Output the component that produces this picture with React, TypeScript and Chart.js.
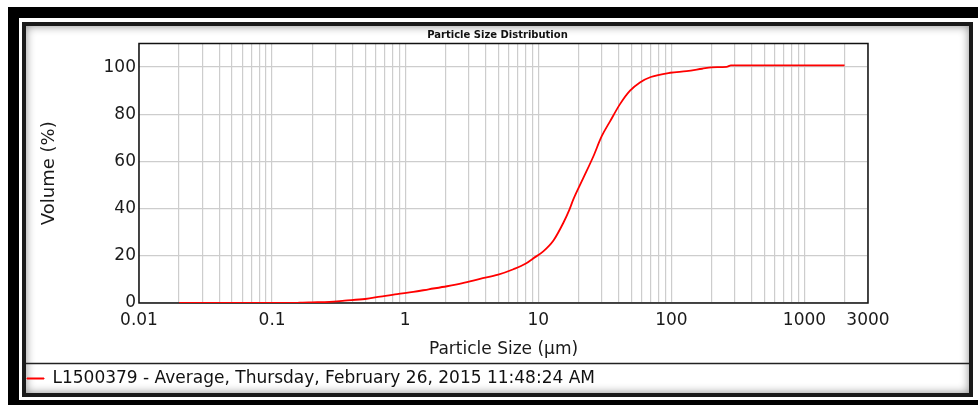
import React, { useEffect, useRef } from "react";
import { Chart, registerables } from "chart.js";

Chart.register(...registerables);

// ---- data ----
const SIZES = [
  0.02, 0.05, 0.1, 0.15, 0.17, 0.2, 0.27, 0.35, 0.5, 0.65, 0.87, 1.15, 1.5,
  2.06, 2.7, 3.65, 5, 6.5, 8, 9.1, 10.9, 13, 15.4, 17.1, 18.3, 21.8, 25.9,
  29.9, 34.6, 41.1, 48.9, 58, 70, 98, 130, 170, 200, 260, 280, 2000,
];
const VOLUMES = [
  0, 0, 0, 0.05, 0.2, 0.3, 0.5, 1.0, 1.7, 2.7, 3.8, 4.7, 5.8, 7.1, 8.4, 10.2,
  12, 14.3, 16.6, 18.8, 21.9, 26.5, 33.9, 39.5, 43.8, 53, 62.1, 70.6, 77, 84.3,
  90, 93.5, 95.8, 97.6, 98.3, 99.3, 99.9, 100.1, 100.7, 100.7,
];
const SERIES_LABEL = "L1500379 - Average, Thursday, February 26, 2015 11:48:24 AM";
const CHART_TITLE = "Particle Size Distribution";
const X_TITLE = "Particle Size (µm)";
const Y_TITLE = "Volume (%)";
const X_MIN = 0.01;
const X_MAX = 3000;
const Y_MIN = 0;
const Y_MAX = 110;
const X_DECADES = [0.01, 0.1, 1, 10, 100, 1000];
const X_MULTIPLIERS = [1, 2, 3, 4, 5, 6, 7, 8, 9];
const X_TICK_LABELS = ["0.01", "0.1", "1", "10", "100", "1000", "3000"];
const Y_TICKS = [0, 20, 40, 60, 80, 100];

const FONT = "'DejaVu Sans', 'Noto Sans', sans-serif";

const xGridValues: number[] = [];
X_DECADES.forEach((d) =>
  X_MULTIPLIERS.forEach((m) => {
    const v = Number((m * d).toPrecision(3));
    if (v >= X_MIN && v <= X_MAX) xGridValues.push(v);
  })
);

const framePlugin = {
  id: "framePlugin",
  beforeDatasetsDraw(chart: any) {
    const { ctx, chartArea } = chart;
    const { left, top, right, bottom } = chartArea;
    ctx.save();
    ctx.strokeStyle = "#111";
    ctx.lineWidth = 1.5;
    ctx.strokeRect(left, top, right - left, bottom - top);
    ctx.restore();
  },
  afterDraw(chart: any) {
    const { ctx } = chart;
    const lg = chart.legend;
    if (!lg) return;
    const y = Math.round(lg.top - 6) + 0.5;
    ctx.save();
    ctx.strokeStyle = "#222";
    ctx.lineWidth = 1.5;
    ctx.beginPath();
    ctx.moveTo(0, y);
    ctx.lineTo(chart.width, y);
    ctx.stroke();
    ctx.restore();
  },
};

export default function App() {
  const canvasRef = useRef<HTMLCanvasElement | null>(null);

  useEffect(() => {
    if (!canvasRef.current) return;
    const points = SIZES.map((s, i) => ({ x: s, y: VOLUMES[i] }));
    const chart = new Chart(canvasRef.current, {
      type: "line",
      data: {
        datasets: [
          {
            label: SERIES_LABEL,
            data: points,
            borderColor: "#ff0000",
            backgroundColor: "#ff0000",
            borderWidth: 1.8,
            pointRadius: 0,
            cubicInterpolationMode: "monotone",
            fill: false,
          },
        ],
      },
      options: {
        animation: false,
        responsive: false,
        devicePixelRatio: 1,
        parsing: true,
        layout: { padding: 0 },
        font: { family: FONT },
        scales: {
          x: {
            type: "logarithmic",
            position: "bottom",
            min: X_MIN,
            max: X_MAX,
            afterBuildTicks: (scale: any) => {
              scale.ticks = xGridValues.map((v) => ({ value: v }));
            },
            afterFit: (scale: any) => {
              scale.height = 66;
            },
            ticks: {
              autoSkip: false,
              maxRotation: 0,
              minRotation: 0,
              padding: 7,
              color: "#1a1a1a",
              font: { family: FONT, size: 17 },
              callback: (value: any) => {
                const v = Number(value);
                const hit = X_TICK_LABELS.find(
                  (l) => Math.abs(Number(l) - v) <= Number(l) * 1e-6
                );
                return hit ?? "";
              },
            },
            grid: {
              color: "#cdcdcd",
              lineWidth: 1.2,
              drawTicks: false,
            },
            border: { display: false },
            title: {
              display: true,
              text: X_TITLE,
              color: "#1a1a1a",
              font: { family: FONT, size: 17 },
              padding: { top: 0, bottom: 9 },
            },
          },
          y: {
            type: "linear",
            position: "left",
            min: Y_MIN,
            max: Y_MAX,
            afterBuildTicks: (scale: any) => {
              scale.ticks = Y_TICKS.map((v) => ({ value: v }));
            },
            afterFit: (scale: any) => {
              scale.width = 113;
            },
            ticks: {
              padding: 3,
              color: "#1a1a1a",
              font: { family: FONT, size: 17 },
            },
            grid: {
              color: "#cdcdcd",
              lineWidth: 1.2,
              drawTicks: false,
            },
            border: { display: false },
            title: {
              display: true,
              text: Y_TITLE,
              color: "#1a1a1a",
              font: { family: FONT, size: 18 },
              padding: { top: 13, bottom: 0 },
            },
          },
          yRight: {
            type: "linear",
            position: "right",
            min: 0,
            max: 1,
            display: true,
            grid: { display: false, drawTicks: false },
            ticks: { display: false },
            border: { display: false },
            afterFit: (scale: any) => {
              scale.width = 101;
            },
          },
        },
        plugins: {
          title: {
            display: true,
            text: CHART_TITLE,
            color: "#111",
            font: { family: FONT, size: 10, weight: "bold" },
            padding: { top: 3, bottom: 2.5 },
          },
          legend: {
            display: true,
            position: "bottom",
            align: "start",
            labels: {
              boxWidth: 17,
              boxHeight: 1,
              padding: 1,
              color: "#111",
              font: { family: FONT, size: 17 },
              generateLabels: (c: any) =>
                Chart.defaults.plugins.legend.labels
                  .generateLabels(c)
                  .map((it: any) => ({ ...it, lineWidth: 1 })),
            },
          },
          tooltip: { enabled: false },
        },
      },
      plugins: [framePlugin],
    } as any);
    return () => chart.destroy();
  }, []);

  return (
    <div
      style={{
        position: "fixed",
        left: 0,
        top: 0,
        width: 978,
        height: 405,
        overflow: "hidden",
        background: "#fff",
      }}
    >
      <div
        style={{
          position: "absolute",
          left: 8,
          top: 7,
          width: 990,
          height: 404,
          border: "11px solid #000",
          boxSizing: "border-box",
        }}
      />
      <div
        style={{
          position: "absolute",
          left: 22,
          top: 22,
          width: 951,
          height: 375,
          border: "4px solid #1a1a1a",
          boxSizing: "border-box",
          background: "#fff",
          boxShadow: "inset 0 0 10px rgba(0,0,0,0.45)",
        }}
      />
      <canvas
        ref={canvasRef}
        width={943}
        height={371}
        style={{ position: "absolute", left: 26, top: 26, width: 943, height: 371 }}
      />
    </div>
  );
}
